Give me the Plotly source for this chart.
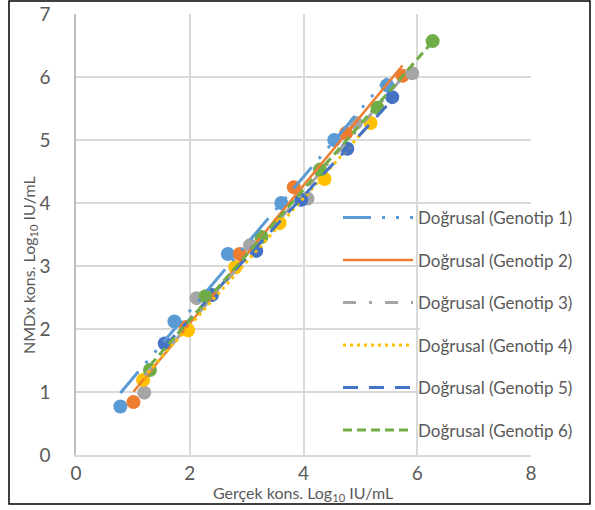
import numpy as np
import plotly.graph_objects as go

# ---- data ----
series_names = ["Genotip 1", "Genotip 2", "Genotip 3", "Genotip 4", "Genotip 5", "Genotip 6"]

g1_x = [0.78, 1.73, 2.67, 3.61, 4.54, 5.47]
g1_y = [0.77, 2.12, 3.19, 4.00, 5.00, 5.87]

g2_x = [1.01, 1.93, 2.88, 3.83, 4.75, 5.74]
g2_y = [0.84, 2.03, 3.19, 4.25, 5.11, 6.02]

g3_x = [1.20, 2.12, 3.06, 4.07, 4.92, 5.91]
g3_y = [0.99, 2.49, 3.33, 4.07, 5.27, 6.06]

g4_x = [1.18, 1.97, 2.80, 3.58, 4.37, 5.18]
g4_y = [1.19, 1.98, 2.98, 3.68, 4.38, 5.27]

g5_x = [1.56, 2.39, 3.17, 3.96, 4.77, 5.56]
g5_y = [1.77, 2.54, 3.24, 4.05, 4.86, 5.68]

g6_x = [1.30, 2.28, 3.26, 4.29, 5.30, 6.27]
g6_y = [1.35, 2.52, 3.46, 4.53, 5.51, 6.57]

xs = [g1_x, g2_x, g3_x, g4_x, g5_x, g6_x]
ys = [g1_y, g2_y, g3_y, g4_y, g5_y, g6_y]

colors = ["#5B9BD5", "#ED7D31", "#A5A5A5", "#FFC000", "#4472C4", "#70AD47"]
dashes = ["28px,11px,3px,11px,3px,11px", "solid", "13px,13px,3px,13px",
          "3px,4px", "15px,11px", "9px,5px"]
widths = [3, 2.5, 3, 3, 3, 3]

x_ticks = [0, 2, 4, 6, 8]
y_ticks = [0, 1, 2, 3, 4, 5, 6, 7]

FONT = "Lato"
GREY = "#595959"

fig = go.Figure()

# markers
for i in range(6):
    fig.add_trace(go.Scatter(
        x=xs[i], y=ys[i], mode="markers",
        marker=dict(size=14, color=colors[i]),
        showlegend=False, hoverinfo="skip"))

# linear trendlines
for i in range(6):
    xa = np.array(xs[i]); ya = np.array(ys[i])
    m, b = np.polyfit(xa, ya, 1)
    tx = [xa.min(), xa.max()]
    ty = [m * v + b for v in tx]
    fig.add_trace(go.Scatter(
        x=tx, y=ty, mode="lines",
        line=dict(color=colors[i], width=widths[i], dash=dashes[i]),
        name="Doğrusal (" + series_names[i] + ")",
        legendgroup="g%d" % i, showlegend=True))

axis_common = dict(showgrid=True, gridcolor="#D9D9D9", gridwidth=1.5,
                   zeroline=False, showline=True, automargin=False,
                   tickfont=dict(family=FONT, size=19, color=GREY),
                   ticks="")

fig.update_xaxes(range=[0, 8], tickvals=x_ticks, linecolor="#D9D9D9", linewidth=1.5,
                 ticklabelstandoff=0, **axis_common)
fig.update_yaxes(range=[0, 7], tickvals=y_ticks, linecolor="#BFBFBF", linewidth=1.5,
                 ticklabelstandoff=20, **axis_common)

# white box behind legend text
fig.add_shape(type="rect", xref="paper", yref="paper",
              x0=(420 - 76) / 455, x1=(536 - 76) / 455,
              y0=(455 - 447) / 441, y1=(455 - 206) / 441,
              fillcolor="white", line=dict(width=0), layer="above")

# outer frame
fig.add_shape(type="rect", xref="paper", yref="paper",
              x0=(9 - 76) / 455, x1=(590 - 76) / 455,
              y0=(455 - 504) / 441, y1=(455 - 1) / 441,
              fillcolor="rgba(0,0,0,0)", line=dict(color="black", width=1.5), layer="above")

fig.add_annotation(text="Gerçek kons. Log<sub>10</sub> IU/mL", xref="paper", yref="paper",
                   x=(303 - 76) / 455, y=(455 - 493) / 441, showarrow=False,
                   xanchor="center", yanchor="middle",
                   font=dict(family=FONT, size=16, color=GREY))
fig.add_annotation(text="NMDx kons. Log<sub>10</sub> IU/mL", xref="paper", yref="paper",
                   x=(29 - 76) / 455, y=(455 - 265) / 441, showarrow=False, textangle=-90,
                   xanchor="center", yanchor="middle",
                   font=dict(family=FONT, size=16, color=GREY))

fig.update_layout(
    width=595, height=510,
    margin=dict(l=76, r=64, t=14, b=55, autoexpand=False),
    paper_bgcolor="white", plot_bgcolor="white",
    font=dict(family=FONT, color=GREY),
    legend=dict(x=(338 - 76) / 455, y=(455 - 200) / 441, xanchor="left", yanchor="top",
                bgcolor="rgba(0,0,0,0)", traceorder="grouped", tracegroupgap=17.4,
                itemwidth=70, font=dict(family=FONT, size=17, color=GREY)),
)

fig.write_html("out.html")
